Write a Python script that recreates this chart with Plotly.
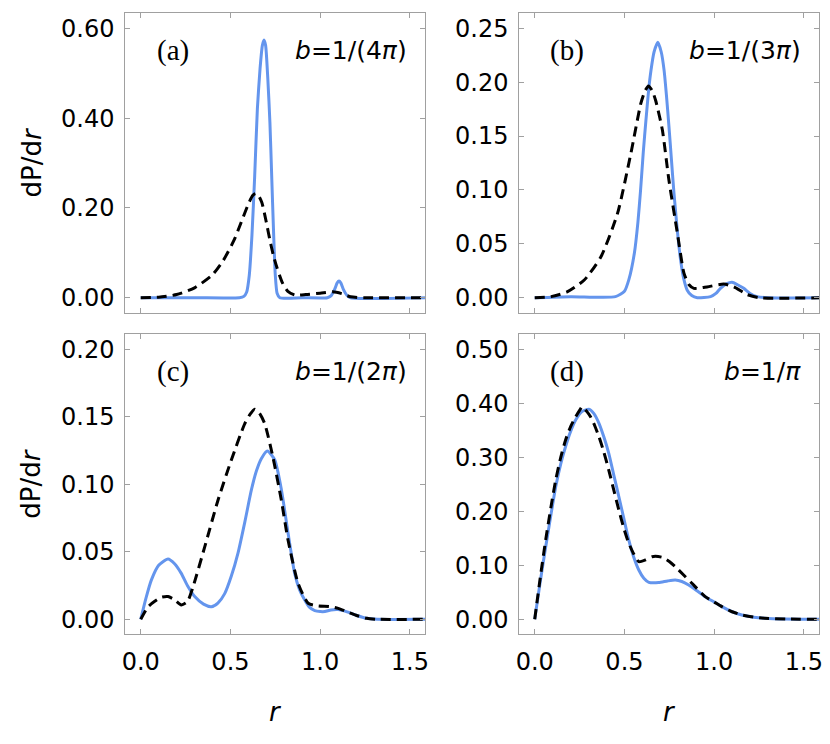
import plotly.graph_objects as go

# --- (a) b = 1/(4 pi) ---
r_a_blue = [0, 0.3, 0.55, 0.575, 0.59, 0.605, 0.62, 0.635, 0.65, 0.665, 0.678, 0.687,
            0.696, 0.708, 0.72, 0.73, 0.74, 0.75, 0.76, 0.775, 0.9, 1.04, 1.06, 1.08,
            1.095, 1.105, 1.115, 1.13, 1.15, 1.17, 1.6]
p_a_blue = [0, 0, 0, 0.003, 0.012, 0.05, 0.14, 0.27, 0.42, 0.51, 0.562, 0.574,
            0.562, 0.49, 0.39, 0.27, 0.15, 0.05, 0.01, 0, 0, 0, 0.004, 0.018,
            0.033, 0.037, 0.033, 0.018, 0.005, 0, 0]
r_a_black = [0, 0.1, 0.2, 0.3, 0.4, 0.46, 0.52, 0.56, 0.6, 0.625, 0.64, 0.655, 0.675,
             0.7, 0.72, 0.74, 0.76, 0.79, 0.82, 0.86, 0.92, 1.0, 1.07, 1.12, 1.17, 1.25, 1.6]
p_a_black = [0, 0.001, 0.007, 0.022, 0.051, 0.083, 0.128, 0.168, 0.209, 0.228, 0.232,
             0.228, 0.212, 0.168, 0.128, 0.093, 0.066, 0.033, 0.014, 0.006, 0.007,
             0.01, 0.013, 0.009, 0.002, 0, 0]

# --- (b) b = 1/(3 pi) ---
r_b_blue = [0, 0.2, 0.45, 0.5, 0.525, 0.555, 0.575, 0.59, 0.605, 0.62, 0.635, 0.648,
            0.665, 0.686, 0.705, 0.721, 0.735, 0.748, 0.762, 0.776, 0.795, 0.813,
            0.83, 0.85, 0.875, 0.906, 0.98, 1.01, 1.035, 1.07, 1.1, 1.13, 1.165,
            1.2, 1.24, 1.3, 1.6]
p_b_blue = [0, 0.001, 0.001, 0.006, 0.017, 0.041, 0.07, 0.1, 0.135, 0.165, 0.193,
            0.211, 0.228, 0.237, 0.228, 0.211, 0.186, 0.159, 0.128, 0.097, 0.062,
            0.035, 0.018, 0.007, 0.002, 0.0, 0.001, 0.004, 0.0087, 0.013, 0.0143,
            0.012, 0.0087, 0.004, 0.001, 0, 0]
r_b_black = [0, 0.091, 0.183, 0.276, 0.369, 0.461, 0.536, 0.591, 0.615, 0.634, 0.655,
             0.674, 0.711, 0.748, 0.795, 0.832, 0.86, 0.887, 0.96, 1.054, 1.11, 1.183,
             1.25, 1.6]
p_b_black = [0, 0.001, 0.0056, 0.0164, 0.038, 0.078, 0.134, 0.18, 0.192, 0.1965,
             0.192, 0.183, 0.156, 0.109, 0.06, 0.0226, 0.012, 0.0087, 0.01, 0.0127,
             0.010, 0.003, 0, 0]

# --- (c) b = 1/(2 pi) ---
r_c_blue = [0, 0.03, 0.059, 0.1, 0.152, 0.19, 0.226, 0.26, 0.301, 0.35, 0.394, 0.43,
            0.468, 0.505, 0.542, 0.58, 0.617, 0.645, 0.672, 0.706, 0.747, 0.784,
            0.821, 0.858, 0.885, 0.914, 0.94, 0.97, 1.0, 1.026, 1.06, 1.1, 1.15,
            1.2, 1.26, 1.32, 1.6]
p_c_blue = [0, 0.016, 0.029, 0.04, 0.0447, 0.041, 0.034, 0.025, 0.0168, 0.0112,
            0.0093, 0.012, 0.019, 0.032, 0.049, 0.072, 0.096, 0.11, 0.119, 0.1247,
            0.118, 0.096, 0.064, 0.034, 0.022, 0.0143, 0.009, 0.0064, 0.0057, 0.0057,
            0.0069, 0.0072, 0.0055, 0.003, 0.0007, 0, 0]
r_c_black = [0, 0.041, 0.08, 0.115, 0.152, 0.19, 0.226, 0.26, 0.292, 0.357, 0.431,
             0.505, 0.58, 0.61, 0.635, 0.66, 0.691, 0.737, 0.784, 0.821, 0.877, 0.933,
             0.989, 1.05, 1.1, 1.15, 1.2, 1.26, 1.32, 1.6]
p_c_black = [0, 0.0093, 0.0135, 0.0163, 0.0168, 0.0143, 0.0106, 0.013, 0.0242,
             0.0538, 0.0884, 0.118, 0.145, 0.152, 0.1556, 0.153, 0.145, 0.12, 0.088,
             0.0587, 0.0267, 0.0119, 0.0099, 0.0095, 0.0081, 0.0055, 0.003, 0.0007,
             0, 0]

# --- (d) b = 1/pi ---
r_d_blue = [0, 0.03, 0.061, 0.09, 0.117, 0.145, 0.172, 0.2, 0.228, 0.26, 0.302,
            0.33, 0.358, 0.385, 0.413, 0.44, 0.469, 0.497, 0.524, 0.552, 0.58, 0.608,
            0.636, 0.691, 0.74, 0.783, 0.82, 0.858, 0.9, 0.95, 1.0, 1.043, 1.1,
            1.154, 1.22, 1.28, 1.4, 1.6]
p_d_blue = [0, 0.068, 0.134, 0.193, 0.2456, 0.288, 0.32, 0.348, 0.369, 0.384, 0.389,
            0.381, 0.363, 0.338, 0.307, 0.268, 0.227, 0.186, 0.147, 0.115, 0.0913,
            0.076, 0.0685, 0.068, 0.071, 0.0728, 0.07, 0.0635, 0.054, 0.042, 0.032,
            0.0234, 0.014, 0.008, 0.004, 0.002, 0.0005, 0]
r_d_black = [0, 0.03, 0.061, 0.09, 0.117, 0.145, 0.172, 0.2, 0.228, 0.25, 0.265,
             0.29, 0.311, 0.335, 0.358, 0.385, 0.413, 0.44, 0.469, 0.497, 0.524,
             0.552, 0.58, 0.617, 0.654, 0.709, 0.75, 0.783, 0.83, 0.876, 0.95, 1.0,
             1.043, 1.1, 1.154, 1.22, 1.28, 1.4, 1.6]
p_d_black = [0, 0.075, 0.147, 0.207, 0.258, 0.3, 0.332, 0.357, 0.375, 0.387, 0.394,
             0.385, 0.375, 0.358, 0.338, 0.31, 0.276, 0.24, 0.202, 0.168, 0.141,
             0.121, 0.1067, 0.11, 0.116, 0.115, 0.107, 0.0975, 0.082, 0.0667, 0.042,
             0.032, 0.0234, 0.014, 0.008, 0.004, 0.002, 0.0005, 0]

panels = [
    ("(a)", "<i>b</i>=1/(4<i>π</i>)", r_a_blue, p_a_blue, r_a_black, p_a_black,
     [-0.0334, 0.6334], [0, 0.2, 0.4, 0.6]),
    ("(b)", "<i>b</i>=1/(3<i>π</i>)", r_b_blue, p_b_blue, r_b_black, p_b_black,
     [-0.0139, 0.2639], [0, 0.05, 0.1, 0.15, 0.2, 0.25]),
    ("(c)", "<i>b</i>=1/(2<i>π</i>)", r_c_blue, p_c_blue, r_c_black, p_c_black,
     [-0.0109, 0.2111], [0, 0.05, 0.1, 0.15, 0.2]),
    ("(d)", "<i>b</i>=1/<i>π</i>", r_d_blue, p_d_blue, r_d_black, p_d_black,
     [-0.0272, 0.5278], [0, 0.1, 0.2, 0.3, 0.4, 0.5]),
]
x_ticks = [0, 0.5, 1.0, 1.5]

# page body adds an 8px margin, so the figure is 8px smaller and shifted
OFF = 8
W, H = 830 - OFF, 744 - OFF


def fx(px):
    return (px - OFF) / W


def fy(py):
    return 1 - (py - OFF) / H


x_doms = [[fx(125.3), fx(425.3)], [fx(519.3), fx(819.3)]]
y_doms = [[fy(312.7), fy(13.3)], [fy(634), fy(334.3)]]

FONT = "DejaVu Sans"
frame = "#a0a0a0"

fig = go.Figure()
annotations = []
for i, (tag, blab, rb, pb, rk, pk, yr, yt) in enumerate(panels):
    n = i + 1
    row, col = divmod(i, 2)
    xa = "x" if n == 1 else f"x{n}"
    ya = "y" if n == 1 else f"y{n}"
    fig.add_trace(go.Scatter(x=rb, y=pb, mode="lines", xaxis=xa, yaxis=ya,
                             line=dict(color="#6495ED", width=3, shape="spline", smoothing=0.6),
                             hoverinfo="none"))
    fig.add_trace(go.Scatter(x=rk, y=pk, mode="lines", xaxis=xa, yaxis=ya,
                             line=dict(color="black", width=3, dash="10px,6px",
                                       shape="spline", smoothing=0.6),
                             hoverinfo="none"))
    common = dict(showline=True, linecolor=frame, linewidth=1, mirror="ticks",
                  ticks="inside", ticklen=5, tickcolor=frame, showgrid=False,
                  zeroline=False, automargin=False,
                  tickfont=dict(family=FONT, size=24, color="black"))
    fig.layout[xa.replace("x", "xaxis")] = dict(
        domain=x_doms[col], anchor=ya, range=[-0.086, 1.586], tickvals=x_ticks,
        tickformat=".1f", showticklabels=(row == 1), ticklabelstandoff=6, **common)
    fig.layout[ya.replace("y", "yaxis")] = dict(
        domain=y_doms[row], anchor=xa, range=yr, tickvals=yt, tickformat=".2f",
        ticklabelstandoff=5, **common)
    xd = xa + " domain"
    yd = ya + " domain"
    annotations.append(dict(text=tag, xref=xd, yref=yd, x=0.158, y=0.877,
                            showarrow=False, xanchor="center", yanchor="middle",
                            font=dict(family="Liberation Serif", size=29, color="black")))
    annotations.append(dict(text=blab, xref=xd, yref=yd, x=0.945, y=0.877,
                            showarrow=False, xanchor="right", yanchor="middle",
                            font=dict(family=FONT, size=25, color="black")))

for yc in [(13.3 + 312.7) / 2, (334.3 + 634) / 2]:
    annotations.append(dict(text="dP/d<i>r</i>", xref="paper", yref="paper",
                            x=fx(31.5), y=fy(yc), textangle=-90, showarrow=False,
                            xanchor="center", yanchor="middle",
                            font=dict(family=FONT, size=26, color="black")))
for xc in [(125.3 + 425.3) / 2, (519.3 + 819.3) / 2]:
    annotations.append(dict(text="<i>r</i>", xref="paper", yref="paper",
                            x=fx(xc), y=fy(711.7), showarrow=False,
                            xanchor="center", yanchor="middle",
                            font=dict(family=FONT, size=26, color="black")))

fig.update_layout(width=W, height=H, margin=dict(l=0, r=0, t=0, b=0),
                  showlegend=False, plot_bgcolor="white", paper_bgcolor="white",
                  annotations=annotations)

fig.write_html("out.html")
